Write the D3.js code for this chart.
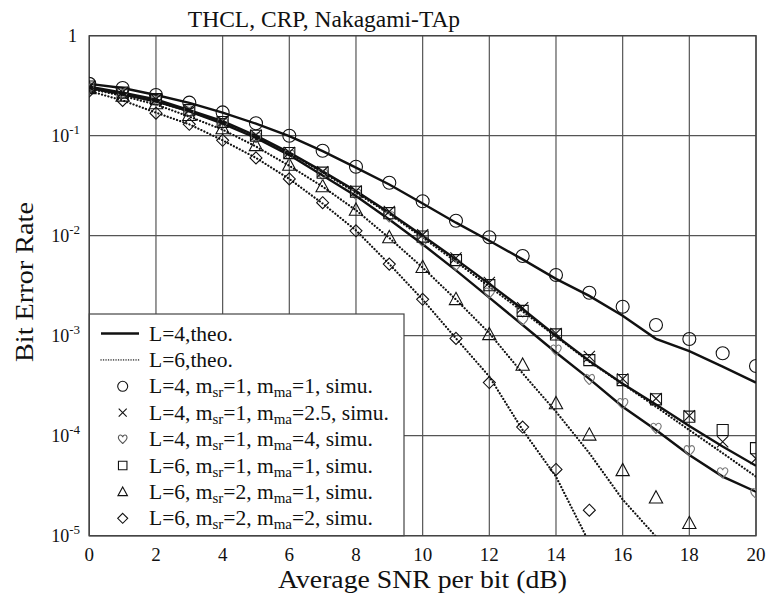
<!DOCTYPE html>
<html>
<head>
<meta charset="utf-8">
<script src="https://cdn.jsdelivr.net/npm/d3@7/dist/d3.min.js"></script>
<style>
  body { margin: 0; background: #fff; }
  text { font-family: "Liberation Serif", "Times New Roman", serif; fill: #111; }
</style>
</head>
<body>
<svg id="chart" width="766" height="602"></svg>
<script>
// SNR axis (dB)
var snr = d3.range(0, 21);

// theory curves
var theoL4m1 = [0.33,0.30,0.255,0.213,0.17,0.132,0.099,0.070,0.048,0.0325,0.0210,0.0135,0.0089,0.0058,0.0037,0.0025,0.00158,0.00093,0.00070,0.00049,0.00034];
var theoL4m25 = [0.31,0.27,0.23,0.18,0.14,0.10,0.068,0.044,0.028,0.017,0.0100,0.0058,0.0033,0.00185,0.00100,0.00056,0.00033,0.000205,0.000125,0.000078,0.000050];
var theoL4m4 = [0.30,0.26,0.22,0.175,0.132,0.095,0.064,0.040,0.025,0.0145,0.0082,0.0045,0.0024,0.00128,0.00068,0.00037,0.000195,0.000114,0.000064,0.000039,0.0000275];
var theoL6m11 = [0.30,0.26,0.22,0.175,0.135,0.098,0.067,0.043,0.027,0.0165,0.0096,0.0055,0.0031,0.00175,0.00098,0.00055,0.00033,0.000195,0.000114,0.000067,0.000039];
var theoL6m21 = [0.295,0.25,0.205,0.155,0.115,0.078,0.05,0.031,0.018,0.0095,0.0048,0.0023,0.00106,0.00042,0.000174,0.000067,0.000023,0.0000098,0.000004];
var theoL6m22 = [0.28,0.225,0.17,0.13,0.09,0.06,0.037,0.021,0.0113,0.0052,0.0023,0.00094,0.00039,0.000114,0.000039,0.0000085];

// simulated points
var simCircle = [0.33,0.30,0.255,0.214,0.171,0.133,0.100,0.0708,0.049,0.0339,0.0221,0.0141,0.00964,0.00627,0.00405,0.00269,0.00195,0.00128,0.000927,0.000667,0.000498];
var simCross = [0.31,0.27,0.232,0.182,0.138,0.101,0.068,0.0435,0.028,0.0175,0.0102,0.006,0.0034,0.0019,0.00105,0.00062,0.00037,0.000235,0.000158,0.000087,0.000059];
var simHeart = [0.30,0.265,0.225,0.175,0.133,0.096,0.064,0.041,0.026,0.0155,0.0088,0.0051,0.00268,0.00144,0.00072,0.000366,0.00021,0.000119,0.000071,0.0000427,0.0000265];
var simSquare = [0.31,0.27,0.232,0.18,0.137,0.1,0.067,0.0427,0.0275,0.0168,0.0098,0.0057,0.0032,0.00177,0.00103,0.00057,0.00036,0.000231,0.000155,0.000114,0.000075];
var simTri = [0.297,0.25,0.21,0.16,0.118,0.08,0.051,0.031,0.0181,0.0096,0.00483,0.00231,0.00103,0.00051,0.00021,0.000102,0.000045,0.000024,0.0000133];
var simDiamond = [0.28,0.225,0.168,0.13,0.09,0.06,0.037,0.0214,0.0112,0.0052,0.00231,0.00094,0.00034,0.000122,0.000046,0.000018];

var xTicks = d3.range(0, 21, 2);
var yTicks = [1, 1e-1, 1e-2, 1e-3, 1e-4, 1e-5];
var yExp = ["", "-1", "-2", "-3", "-4", "-5"];

var legendItems = [
  {kind: "solid", parts: [["L=4,theo.", ""]]},
  {kind: "dotted", parts: [["L=6,theo.", ""]]},
  {kind: "circle", parts: [["L=4, m", ""], ["sr", "sub"], ["=1, m", ""], ["ma", "sub"], ["=1, simu.", ""]]},
  {kind: "cross", parts: [["L=4, m", ""], ["sr", "sub"], ["=1, m", ""], ["ma", "sub"], ["=2.5, simu.", ""]]},
  {kind: "heart", parts: [["L=4, m", ""], ["sr", "sub"], ["=1, m", ""], ["ma", "sub"], ["=4, simu.", ""]]},
  {kind: "square", parts: [["L=6, m", ""], ["sr", "sub"], ["=1, m", ""], ["ma", "sub"], ["=1, simu.", ""]]},
  {kind: "triangle", parts: [["L=6, m", ""], ["sr", "sub"], ["=2, m", ""], ["ma", "sub"], ["=1, simu.", ""]]},
  {kind: "diamond", parts: [["L=6, m", ""], ["sr", "sub"], ["=2, m", ""], ["ma", "sub"], ["=2, simu.", ""]]}
];

var svg = d3.select("#chart");
var x = d3.scaleLinear().domain([0, 20]).range([89.3, 756]);
var y = d3.scaleLog().domain([1e-5, 1]).range([535.7, 35.7]);

var plotW = x(20) - x(0), plotH = y(1e-5) - y(1);

svg.append("clipPath").attr("id", "clip")
  .append("rect").attr("x", x(0)).attr("y", y(1)).attr("width", plotW).attr("height", plotH);

// grid
var grid = svg.append("g").attr("stroke", "#555").attr("stroke-width", 1.2);
grid.selectAll("line.v").data(xTicks).enter().append("line")
  .attr("x1", function(d) { return x(d); }).attr("x2", function(d) { return x(d); })
  .attr("y1", y(1)).attr("y2", y(1e-5));
grid.selectAll("line.h").data(yTicks).enter().append("line")
  .attr("y1", function(d) { return y(d); }).attr("y2", function(d) { return y(d); })
  .attr("x1", x(0)).attr("x2", x(20));

// legend box covers the grid
var lgX = x(0), lgY = 314, lgW = 404 - x(0), lgH = y(1e-5) - 314;
svg.append("rect").attr("x", lgX).attr("y", lgY).attr("width", lgW).attr("height", lgH)
  .attr("fill", "#fff").attr("stroke", "#444").attr("stroke-width", 1.2);

// frame
svg.append("rect").attr("x", x(0)).attr("y", y(1)).attr("width", plotW).attr("height", plotH)
  .attr("fill", "none").attr("stroke", "#444").attr("stroke-width", 1.4);

// curves
var line = d3.line().x(function(d, i) { return x(snr[i]); }).y(function(d) { return y(d); });
var curves = svg.append("g").attr("clip-path", "url(#clip)").attr("fill", "none").attr("stroke", "#111");
[theoL4m1, theoL4m25, theoL4m4].forEach(function(c) {
  curves.append("path").attr("d", line(c)).attr("stroke-width", 2.4);
});
[theoL6m11, theoL6m21, theoL6m22].forEach(function(c) {
  curves.append("path").attr("d", line(c)).attr("stroke-width", 2.2)
    .attr("stroke-dasharray", "0.1,3.2").attr("stroke-linecap", "round");
});

// marker shapes
function markerPath(kind, s) {
  var p = d3.path();
  if (kind === "circle") { p.moveTo(s, 0); p.arc(0, 0, s, 0, 2 * Math.PI); }
  else if (kind === "square") { p.rect(-s * 0.85, -s * 0.85, s * 1.7, s * 1.7); }
  else if (kind === "cross") { var c = s * 0.8; p.moveTo(-c, -c); p.lineTo(c, c); p.moveTo(-c, c); p.lineTo(c, -c); }
  else if (kind === "triangle") { p.moveTo(0, -s); p.lineTo(s * 0.95, s * 0.75); p.lineTo(-s * 0.95, s * 0.75); p.closePath(); }
  else if (kind === "diamond") { p.moveTo(0, -s); p.lineTo(s, 0); p.lineTo(0, s); p.lineTo(-s, 0); p.closePath(); }
  else if (kind === "heart") {
    var h = s;
    p.moveTo(0, h * 0.9);
    p.bezierCurveTo(-h * 0.3, h * 0.5, -h, h * 0.1, -h * 0.85, -h * 0.45);
    p.bezierCurveTo(-h * 0.7, -h * 1.0, -h * 0.1, -h * 0.9, 0, -h * 0.4);
    p.bezierCurveTo(h * 0.1, -h * 0.9, h * 0.7, -h * 1.0, h * 0.85, -h * 0.45);
    p.bezierCurveTo(h, h * 0.1, h * 0.3, h * 0.5, 0, h * 0.9);
  }
  return p.toString();
}

var simSets = [
  {kind: "diamond", data: simDiamond, size: 6, color: "#111"},
  {kind: "triangle", data: simTri, size: 7, color: "#111"},
  {kind: "heart", data: simHeart, size: 6, color: "#777"},
  {kind: "square", data: simSquare, size: 6.5, color: "#111"},
  {kind: "cross", data: simCross, size: 7, color: "#111"},
  {kind: "circle", data: simCircle, size: 6.5, color: "#111"}
];
var marks = svg.append("g").attr("clip-path", "url(#clip)");
simSets.forEach(function(s) {
  marks.selectAll(null).data(s.data).enter().append("path")
    .attr("transform", function(d, i) { return "translate(" + x(snr[i]) + "," + y(d) + ")"; })
    .attr("d", markerPath(s.kind, s.size))
    .attr("fill", "none").attr("stroke", s.color).attr("stroke-width", 1.1);
});

// axis labels
svg.selectAll("text.xt").data(xTicks).enter().append("text")
  .attr("x", function(d) { return x(d); }).attr("y", 561)
  .attr("text-anchor", "middle").attr("font-size", 19).text(function(d) { return d; });

var yt = svg.selectAll("text.yt").data(yTicks).enter().append("text")
  .attr("y", function(d) { return y(d) + 6; })
  .attr("x", function(d, i) { return i === 0 ? 77 : 80; })
  .attr("text-anchor", "end").attr("font-size", 18);
yt.append("tspan").text(function(d, i) { return i === 0 ? "1" : "10"; });
yt.append("tspan").attr("dy", -8).attr("font-size", 13).text(function(d, i) { return yExp[i]; });

// titles are slightly stretched horizontally in the reference
svg.append("text").attr("x", 278).attr("y", 588)
  .attr("font-size", 24.5).attr("textLength", 289).attr("lengthAdjust", "spacingAndGlyphs")
  .text("Average SNR per bit (dB)");
svg.append("text").attr("transform", "translate(33,362) rotate(-90)")
  .attr("font-size", 25).attr("textLength", 160).attr("lengthAdjust", "spacingAndGlyphs")
  .text("Bit Error Rate");
svg.append("text").attr("x", 324).attr("y", 27).attr("text-anchor", "middle")
  .attr("font-size", 23.5).text("THCL, CRP, Nakagami-TAp");

// legend
var lg = svg.append("g");
legendItems.forEach(function(it, i) {
  var cy = 333.5 + i * 26.4;
  if (it.kind === "solid") {
    lg.append("line").attr("x1", 101).attr("x2", 139).attr("y1", cy).attr("y2", cy)
      .attr("stroke", "#111").attr("stroke-width", 2.4);
  } else if (it.kind === "dotted") {
    lg.append("line").attr("x1", 101).attr("x2", 139).attr("y1", cy).attr("y2", cy)
      .attr("stroke", "#111").attr("stroke-width", 1.4)
      .attr("stroke-dasharray", "0.1,2.4").attr("stroke-linecap", "round");
  } else {
    lg.append("path").attr("transform", "translate(122.7," + cy + ")")
      .attr("d", markerPath(it.kind, 5))
      .attr("fill", "none").attr("stroke", it.kind === "heart" ? "#555" : "#111").attr("stroke-width", 1.1);
  }
  var t = lg.append("text").attr("x", 149).attr("y", cy + 7).attr("font-size", 21.5);
  it.parts.forEach(function(p, j) {
    if (p[1] === "sub") {
      t.append("tspan").attr("dy", 4).attr("font-size", 15).text(p[0]);
    } else {
      var ts = t.append("tspan").text(p[0]);
      if (j > 0) ts.attr("dy", -4);
    }
  });
});
</script>
</body>
</html>
